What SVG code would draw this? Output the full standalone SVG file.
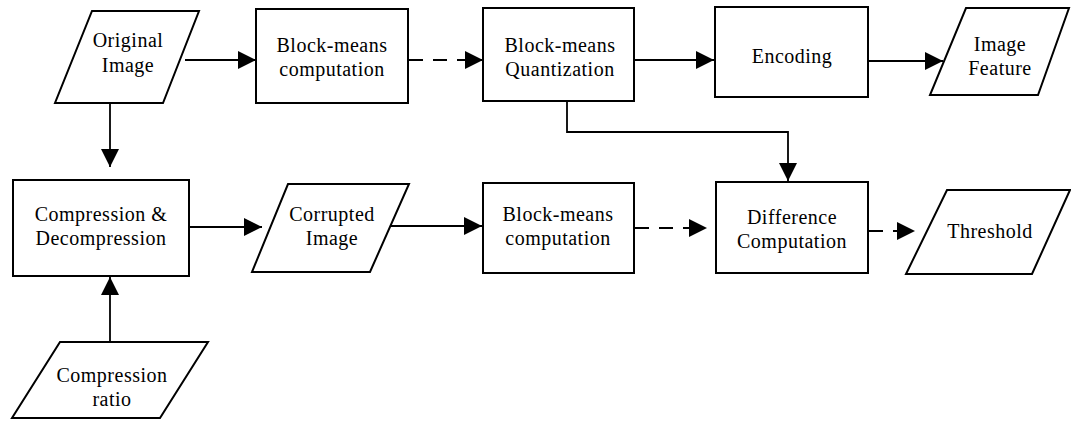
<svg xmlns="http://www.w3.org/2000/svg" width="1071" height="421" viewBox="0 0 1071 421">
  <style>
    .shape { fill: #ffffff; stroke: #000000; stroke-width: 2; }
    .edge { fill: none; stroke: #000000; stroke-width: 1.8; marker-end: url(#head); }
    .dash { stroke-dasharray: 14 10; }
    .label { font-family: 'Liberation Serif', 'Times New Roman', 'DejaVu Serif', serif; font-size: 20px; fill: #000000; text-anchor: middle; letter-spacing: 0.5px; }
  </style>
  <defs>
    <marker id="head" markerUnits="userSpaceOnUse" markerWidth="19" markerHeight="19" refX="18" refY="9" orient="auto">
      <path d="M0,0 L18,9 L0,18 Z" fill="#000000"/>
    </marker>
  </defs>

  <rect width="1071" height="421" fill="#ffffff"/>

  <!-- connectors -->
  <g id="connectors">
    <line class="edge" x1="185" y1="60" x2="256" y2="60"/>
    <line class="edge dash" x1="409" y1="60" x2="483" y2="60"/>
    <line class="edge" x1="635" y1="60" x2="714" y2="60"/>
    <line class="edge" x1="869" y1="61" x2="943" y2="61"/>
    <line class="edge" x1="110" y1="104" x2="110" y2="167"/>
    <line class="edge" x1="110" y1="341" x2="110" y2="277"/>
    <line class="edge" x1="190" y1="227" x2="262" y2="227"/>
    <line class="edge" x1="391" y1="226" x2="482" y2="226"/>
    <line class="edge dash" x1="635" y1="228" x2="707" y2="228"/>
    <line class="edge dash" x1="869" y1="231" x2="915" y2="231"/>
    <polyline class="edge" points="567,102 567,132 788,132 788,181"/>
  </g>

  <g font-family="Liberation Serif, Times New Roman, DejaVu Serif, serif">
  <!-- input / output nodes -->
  <g id="original-image">
    <polygon class="shape" points="92,11 199,11 163,103 55,103"/>
    <text class="label" x="128" y="47">Original</text>
    <text class="label" x="128" y="72">Image</text>
  </g>
  <g id="image-feature">
    <polygon class="shape" points="966,8 1069,8 1038,95 930,95"/>
    <text class="label" x="1000" y="51">Image</text>
    <text class="label" x="1000" y="75">Feature</text>
  </g>
  <g id="corrupted-image">
    <polygon class="shape" points="288,184 409,184 370,272 252,272"/>
    <text class="label" x="332" y="221">Corrupted</text>
    <text class="label" x="332" y="245">Image</text>
  </g>
  <g id="threshold">
    <polygon class="shape" points="947,190 1070,190 1032,274 906,274"/>
    <text class="label" x="990" y="238">Threshold</text>
  </g>
  <g id="compression-ratio">
    <polygon class="shape" points="60,342 208,342 160,418 12,418"/>
    <text class="label" x="112" y="382">Compression</text>
    <text class="label" x="112" y="406">ratio</text>
  </g>

  <!-- processing nodes -->
  <g id="block-means-computation-1">
    <rect class="shape" x="256" y="9" width="152" height="94"/>
    <text class="label" x="332" y="52">Block-means</text>
    <text class="label" x="332" y="76">computation</text>
  </g>
  <g id="block-means-quantization">
    <rect class="shape" x="483" y="8" width="151" height="93"/>
    <text class="label" x="560" y="52">Block-means</text>
    <text class="label" x="560" y="76">Quantization</text>
  </g>
  <g id="encoding">
    <rect class="shape" x="715" y="7" width="153" height="90"/>
    <text class="label" x="792" y="63">Encoding</text>
  </g>
  <g id="compression-decompression">
    <rect class="shape" x="13" y="180" width="176" height="96"/>
    <text class="label" x="101" y="221">Compression &amp;</text>
    <text class="label" x="101" y="245">Decompression</text>
  </g>
  <g id="block-means-computation-2">
    <rect class="shape" x="483" y="183" width="151" height="90"/>
    <text class="label" x="558" y="221">Block-means</text>
    <text class="label" x="558" y="245">computation</text>
  </g>
  <g id="difference-computation">
    <rect class="shape" x="716" y="182" width="152" height="91"/>
    <text class="label" x="792" y="224">Difference</text>
    <text class="label" x="792" y="248">Computation</text>
  </g>
  </g>
</svg>
